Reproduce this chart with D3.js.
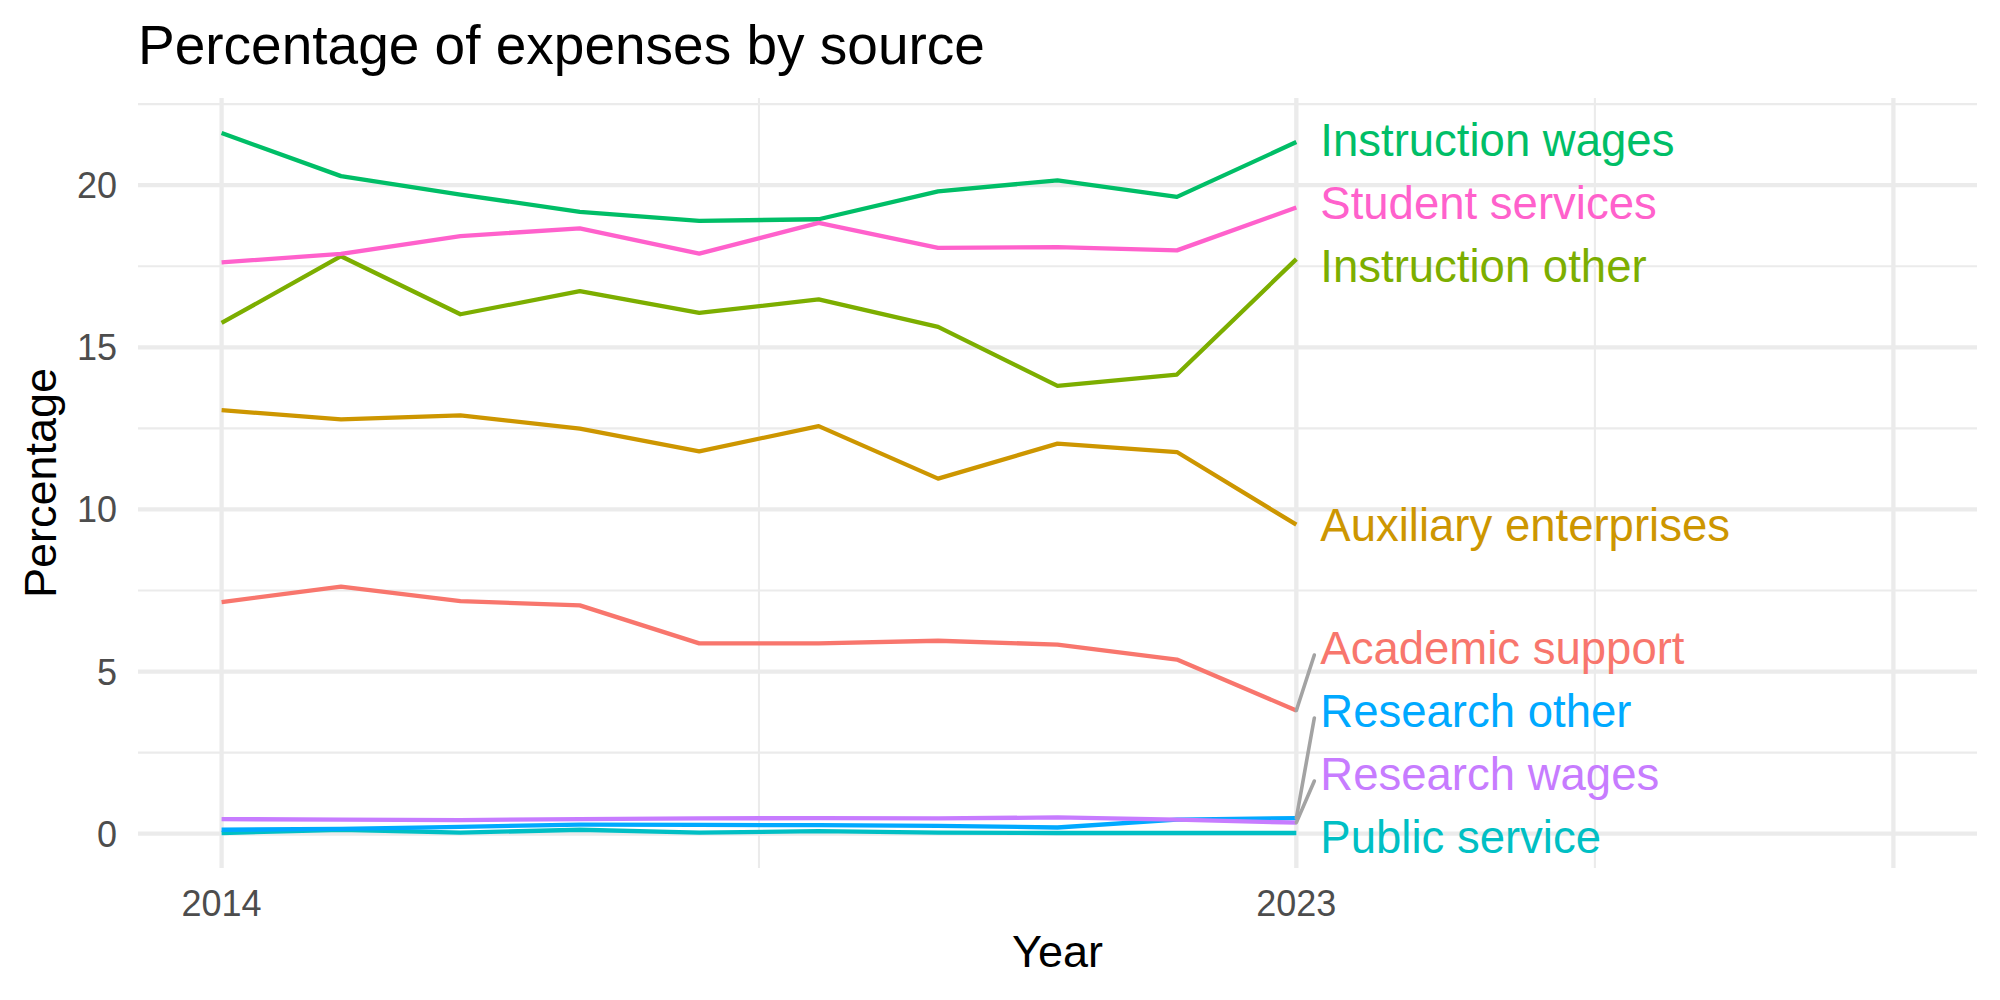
<!DOCTYPE html>
<html>
<head>
<meta charset="utf-8">
<script src="https://cdn.jsdelivr.net/npm/d3@7"></script>
<style>
  body { margin: 0; background: #fff; }
  svg { display: block; background: #fff; font-family: "Liberation Sans", Arial, Helvetica, sans-serif; }
  .grid-major { stroke: #ebebeb; stroke-width: 4.3; }
  .grid-minor { stroke: #ebebeb; stroke-width: 2.1; }
  .series { fill: none; stroke-width: 4.3; stroke-linejoin: round; }
  .tick-label { fill: #4d4d4d; font-size: 36px; }
  .axis-title { fill: #000; font-size: 45px; }
  .title { fill: #000; font-size: 55px; }
  .label { font-size: 45.5px; }
  .segment { stroke: #a3a3a3; stroke-width: 3.6; stroke-linecap: round; fill: none; }
</style>
</head>
<body>
<svg id="chart" width="2000" height="1000"></svg>
<script>
// values
const years = [2014, 2015, 2016, 2017, 2018, 2019, 2020, 2021, 2022, 2023];

const academicSupport = [7.14, 7.62, 7.17, 7.04, 5.87, 5.87, 5.95, 5.83, 5.37, 3.80];
const auxiliaryEnterprises = [13.06, 12.78, 12.90, 12.49, 11.79, 12.57, 10.95, 12.03, 11.77, 9.53];
const instructionOther = [15.75, 17.81, 16.02, 16.73, 16.06, 16.48, 15.63, 13.81, 14.16, 17.72];
const instructionWages = [21.61, 20.28, 19.71, 19.18, 18.90, 18.95, 19.81, 20.15, 19.64, 21.33];
const publicService = [0.02, 0.12, 0.03, 0.12, 0.03, 0.08, 0.03, 0.02, 0.02, 0.02];
const researchOther = [0.12, 0.15, 0.21, 0.28, 0.27, 0.26, 0.24, 0.19, 0.43, 0.48];
const researchWages = [0.45, 0.43, 0.42, 0.45, 0.47, 0.48, 0.47, 0.50, 0.43, 0.34];
const studentServices = [17.62, 17.88, 18.43, 18.67, 17.89, 18.84, 18.07, 18.09, 17.99, 19.31];

const sourceNames = [
  "Academic support",
  "Auxiliary enterprises",
  "Instruction other",
  "Instruction wages",
  "Public service",
  "Research other",
  "Research wages",
  "Student services",
];
const sourceColors = ["#F8766D", "#CD9600", "#7CAE00", "#00BE67", "#00BFC4", "#00A9FF", "#C77CFF", "#FF61CC"];
const sourceValues = [
  academicSupport, auxiliaryEnterprises, instructionOther, instructionWages,
  publicService, researchOther, researchWages, studentServices,
];

const xLimits = [2014, 2028];
const xMajorBreaks = [2014, 2023, 2028];
const xMinorBreaks = [2018.5, 2025.5];
const xTickLabels = [2014, 2023];
const yMajorBreaks = [0, 5, 10, 15, 20];
const yMinorBreaks = [2.5, 7.5, 12.5, 17.5, 22.5];

const titleText = "Percentage of expenses by source";
const xTitle = "Year";
const yTitle = "Percentage";

const series = sourceNames.map((name, i) => ({
  name,
  color: sourceColors[i],
  points: years.map((year, j) => ({ year, value: sourceValues[i][j] })),
}));

/* Layout */
const WIDTH = 2000;
const HEIGHT = 1000;
const margin = { top: 98, right: 23, bottom: 132, left: 138 };
const panelW = WIDTH - margin.left - margin.right;
const panelH = HEIGHT - margin.top - margin.bottom;

const expand = (lo, hi) => {
  const pad = (hi - lo) * 0.05;
  return [lo - pad, hi + pad];
};

const allValues = sourceValues.flat();
const x = d3.scaleLinear().domain(expand(xLimits[0], xLimits[1])).range([0, panelW]);
const y = d3.scaleLinear().domain(expand(d3.min(allValues), d3.max(allValues))).range([panelH, 0]);

const svg = d3.select("#chart");

svg.append("text")
  .attr("class", "title")
  .attr("x", margin.left)
  .attr("y", 64)
  .text(titleText);

const g = svg.append("g").attr("transform", `translate(${margin.left},${margin.top})`);

/* Grid */
const grid = g.append("g");
grid.selectAll("line.hminor").data(yMinorBreaks).join("line")
  .attr("class", "grid-minor")
  .attr("x1", 0).attr("x2", panelW)
  .attr("y1", (d) => y(d)).attr("y2", (d) => y(d));
grid.selectAll("line.vminor").data(xMinorBreaks).join("line")
  .attr("class", "grid-minor")
  .attr("y1", 0).attr("y2", panelH)
  .attr("x1", (d) => x(d)).attr("x2", (d) => x(d));
grid.selectAll("line.hmajor").data(yMajorBreaks).join("line")
  .attr("class", "grid-major")
  .attr("x1", 0).attr("x2", panelW)
  .attr("y1", (d) => y(d)).attr("y2", (d) => y(d));
grid.selectAll("line.vmajor").data(xMajorBreaks).join("line")
  .attr("class", "grid-major")
  .attr("y1", 0).attr("y2", panelH)
  .attr("x1", (d) => x(d)).attr("x2", (d) => x(d));

/* Axis text */
g.append("g").selectAll("text").data(yMajorBreaks).join("text")
  .attr("class", "tick-label")
  .attr("text-anchor", "end")
  .attr("x", -21)
  .attr("y", (d) => y(d) + 13)
  .text((d) => d);

g.append("g").selectAll("text").data(xTickLabels).join("text")
  .attr("class", "tick-label")
  .attr("text-anchor", "middle")
  .attr("x", (d) => x(d))
  .attr("y", panelH + 48)
  .text((d) => d);

svg.append("text")
  .attr("class", "axis-title")
  .attr("text-anchor", "middle")
  .attr("x", margin.left + panelW / 2)
  .attr("y", 967)
  .text(xTitle);

svg.append("text")
  .attr("class", "axis-title")
  .attr("text-anchor", "middle")
  .attr("transform", `translate(56,${margin.top + panelH / 2}) rotate(-90)`)
  .text(yTitle);

/* Lines */
const line = d3.line().x((d) => x(d.year)).y((d) => y(d.value));
g.append("g").selectAll("path").data(series).join("path")
  .attr("class", "series")
  .attr("stroke", (d) => d.color)
  .attr("d", (d) => line(d.points));

/* Repelled end labels (vertical only) */
const LABEL_GAP = 63;
const lastYear = years[years.length - 1];
const labels = series.map((s) => {
  const py = y(s.points[s.points.length - 1].value);
  return { name: s.name, color: s.color, py, ly: py };
});
labels.sort((a, b) => a.py - b.py);
const yTop = LABEL_GAP / 2 + 0.5;
const yBottom = panelH - LABEL_GAP / 2 + 0.5;
for (let iter = 0; iter < 500; iter++) {
  for (let i = 0; i < labels.length - 1; i++) {
    const diff = labels[i + 1].ly - labels[i].ly;
    if (diff < LABEL_GAP) {
      const push = (LABEL_GAP - diff) / 2;
      labels[i].ly -= push;
      labels[i + 1].ly += push;
    }
  }
  labels.forEach((l) => { l.ly = Math.max(yTop, Math.min(yBottom, l.ly)); });
}

const textX = x(lastYear) + 24;
const lab = g.append("g");
lab.selectAll("line").data(labels.filter((l) => Math.abs(l.ly - l.py) > 20)).join("line")
  .attr("class", "segment")
  .attr("x1", x(lastYear)).attr("y1", (d) => d.py)
  .attr("x2", textX - 6).attr("y2", (d) => d.ly + 7);

lab.selectAll("text").data(labels).join("text")
  .attr("class", "label")
  .attr("fill", (d) => d.color)
  .attr("x", textX)
  .attr("y", (d) => d.ly + 16)
  .text((d) => d.name);
</script>
</body>
</html>
